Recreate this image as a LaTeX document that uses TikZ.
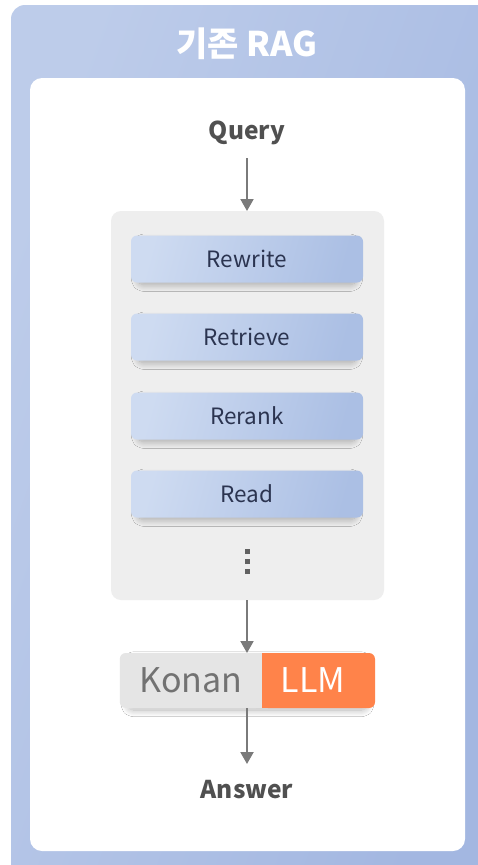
\documentclass[tikz,border=0pt]{standalone}
\usepackage{fontspec}
\setmainfont{Noto Sans CJK KR}
\usetikzlibrary{shadows.blur,arrows.meta,positioning}
\definecolor{outerA}{HTML}{BDCCEA}
\definecolor{outerB}{HTML}{A3B7E1}
\definecolor{stepA}{HTML}{CEDBF1}
\definecolor{stepB}{HTML}{ABBFE4}
\definecolor{steptext}{HTML}{2B3450}
\definecolor{panelgray}{HTML}{EEEEEE}
\definecolor{arrowgray}{HTML}{7A7A7A}
\definecolor{labelgray}{HTML}{505050}
\definecolor{konanfill}{HTML}{E5E5E5}
\definecolor{konantext}{HTML}{727272}
\definecolor{llmfill}{HTML}{FF834A}
\tikzset{
  softshadow/.style={blur shadow={shadow xshift=0pt, shadow yshift=-4pt, shadow scale=0.94,
    shadow blur radius=7pt, shadow blur steps=16, shadow opacity=30}},
  stepbox/.style={rounded corners=6pt, minimum width=232pt, minimum height=47pt,
    left color=stepA, right color=stepB, shading angle=75, draw=none, softshadow,
    text=steptext, font=\fontsize{22.5}{26}\selectfont, inner sep=0pt},
  flowarrow/.style={draw=arrowgray, line width=2pt, -{Triangle[length=12pt,width=13pt]}},
  label/.style={text=labelgray, font=\bfseries\fontsize{24.5}{28}\selectfont}
}
\begin{document}
\begin{tikzpicture}[x=1pt,y=-1pt]
\useasboundingbox (0,0) rectangle (478,865);
% outer box
\shade[left color=outerA, right color=outerB, shading angle=70, rounded corners=14pt]
  (11,5) rectangle (490,880);
\node[text=white, font=\bfseries\fontsize{34}{38}\selectfont] (title) at (247,44) {기존 RAG};
% inner white
\fill[white, rounded corners=12pt] (30,78) rectangle (465,851);
\node[label] (query) at (247,133) {Query};
% gray panel
\fill[panelgray, rounded corners=10pt] (111,211) rectangle (384,600);
\coordinate (paneltop) at (247,211);
\coordinate (panelbot) at (247,600);
\node[stepbox] (rewrite) at (247,259) {Rewrite};
\node[stepbox] (retrieve) at (247,337) {Retrieve};
\node[stepbox] (rerank) at (247,416) {Rerank};
\node[stepbox] (read) at (247,494) {Read};
\foreach \yy in {551,561,571} \fill[labelgray!90] (244.5,\yy-2.5) rectangle (249.5,\yy+2.5);
% Konan LLM
\path[fill=white, rounded corners=6pt, softshadow] (120,653) rectangle (375,708);
\node[fill=konanfill, minimum width=142pt, minimum height=55pt, inner sep=0pt,
  rounded corners=6pt, anchor=east, text=konantext, font=\fontsize{34}{38}\selectfont] (konan) at (262,680.5) {Konan\hspace{2pt}};
\fill[konanfill] (250,653) rectangle (262,708);
\fill[llmfill, rounded corners=6pt] (262,653) rectangle (375,708);
\fill[llmfill] (262,653) rectangle (274,708);
\node[font=\fontsize{34}{38}\selectfont, text=white] (llm) at (313,680.5) {LLM};
\coordinate (ktop) at (247,653);
\coordinate (kbot) at (247,708);
\coordinate (aend) at (247,764);
\node[label] (answer) at (247,790) {Answer};
% arrows
\draw[flowarrow] (247,158) -- (paneltop);
\draw[flowarrow] (panelbot) -- (ktop);
\draw[flowarrow] (kbot) -- (aend);
\end{tikzpicture}
\end{document}
